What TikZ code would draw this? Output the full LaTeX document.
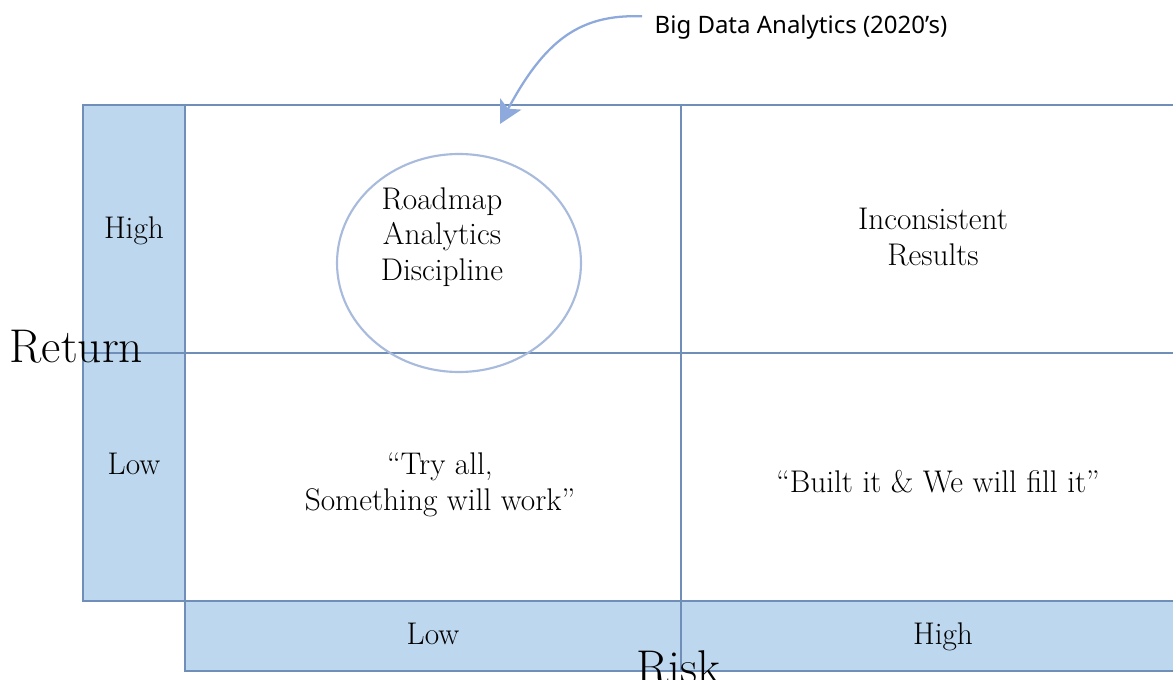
\documentclass[tikz,border=0pt]{standalone}
\usepackage{fontspec}
\newfontfamily\notefont{Noto Sans}
\usetikzlibrary{arrows.meta}
\definecolor{bar}{HTML}{BDD7EE}
\definecolor{rule}{HTML}{6F8FB8}
\definecolor{ring}{HTML}{A8BBDD}
\definecolor{pointer}{HTML}{8EA9DB}

\begin{document}
\begin{tikzpicture}[x=0.75pt,y=-0.75pt,>=Stealth,
 cell/.style={align=center,font=\fontsize{23.5}{26.6}\selectfont},
 axis/.style={font=\fontsize{35.5}{38}\selectfont},
 gridline/.style={rule,line width=1.1pt}]
\useasboundingbox (0,0) rectangle (1173,680);
% bars for the two scales
\fill[bar] (83,105) rectangle (185,601);
\fill[bar] (185,601) rectangle (1185,671);
\draw[gridline] (83,105) rectangle (185,601);
\draw[gridline] (185,601) rectangle (1185,671);
% the four cells
\draw[gridline] (185,105) -- (1185,105);
\draw[gridline] (681,105) -- (681,671);
\draw[gridline] (83,353) -- (1185,353);
\draw[ring,line width=1.6pt] (459,263) ellipse (122 and 109);
% texts
\node[cell] (rhigh) at (134,231) {High};
\node[cell] (rlow) at (134,464) {Low};
\node[cell] (klow) at (433,634) {Low};
\node[cell] (khigh) at (943,637) {High};
\node[cell] (roadmap) at (442,237) {Roadmap\\Analytics\\Discipline};
\node[cell] (incons) at (933,237) {Inconsistent\\Results};
\node[cell] (tryall) at (440,485) {``Try all,\\Something will work''};
\node[cell] (fillit) at (938,482) {``Built it \& We will fill it''};
\node[axis,anchor=base west] (ret) at (5,363) {Return};
\node[axis,anchor=base] (risk) at (678,683) {Risk};
% pointer to the circled cell
\node[font=\notefont\fontsize{18}{21}\selectfont,anchor=west] (note) at (650,27) {Big Data Analytics (2020’s)};
\coordinate (tip) at (500,124);
\draw[->,pointer,line width=1.7pt,arrows={-Stealth[length=17pt,width=18pt,inset=4pt]}]
 ([xshift=-6pt,yshift=8pt]note.west) .. controls (580,14) and (545,40) .. (tip);
\end{tikzpicture}
\end{document}
